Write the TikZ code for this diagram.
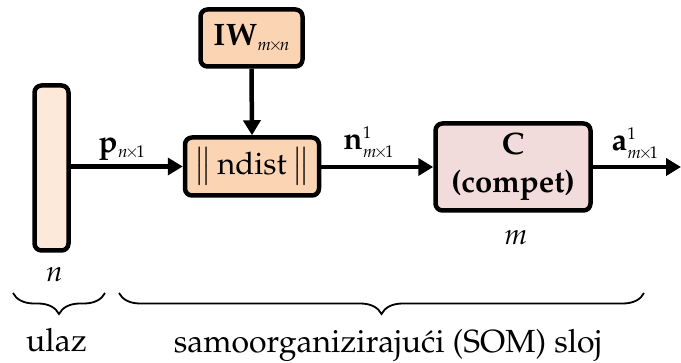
\documentclass[tikz,border=0pt]{standalone}
\usepackage[T1]{fontenc}
\usepackage{mathpazo}
\usetikzlibrary{arrows.meta,decorations.pathreplacing,positioning}
\definecolor{inbar}{HTML}{FDE9D9}
\definecolor{peach}{HTML}{FBD4B4}
\definecolor{pinkc}{HTML}{F2DCDB}
\newcommand{\sbx}[1]{\mbox{\fontsize{17}{17}\selectfont$#1$}}
\newcommand{\tms}{\mkern-3mu{\times}\mkern-3mu}
\tikzset{
  blk/.style={draw=black,line width=4.5pt,rounded corners=7pt,inner sep=0pt},
  conn/.style={line width=4.5pt,-{Triangle[length=15pt,width=17pt]}},
  bigtxt/.style={font=\fontsize{31}{38}\selectfont},
  lbl/.style={font=\fontsize{31}{36}\selectfont,inner sep=0pt},
  dimlbl/.style={font=\fontsize{29}{34}\selectfont,inner sep=0pt,anchor=base},
  btm/.style={font=\fontsize{32}{36}\selectfont,inner sep=0pt,anchor=base},
  brc/.style={decorate,decoration={brace,mirror,amplitude=21pt},line width=1.8pt},
}
\begin{document}
\begin{tikzpicture}[x=1pt,y=-1pt]
\useasboundingbox (0,0) rectangle (681,363);
% blocks
\node[blk,fill=inbar,minimum width=34pt,minimum height=165pt] (inp) at (51.5,168) {};
\node[blk,fill=peach,minimum width=102pt,minimum height=57pt,bigtxt] (iw) at (251.5,38) {$\mathbf{IW}_{\sbx{m\tms n}}$};
\node[blk,fill=peach,minimum width=134pt,minimum height=58pt,bigtxt] (nd) at (252,166.5) {$\big\|\,\mbox{ndist}\,\big\|$};
\node[blk,fill=pinkc,minimum width=155pt,minimum height=87pt,bigtxt,align=center] (cc) at (513,167) {\textbf{C}\\\textbf{(compet)}};
\coordinate (outend) at (681,167);
% connectors
\draw[conn] (inp.east |- nd.west) -- (nd.west);
\draw[conn] (iw.south) -- (nd.north);
\draw[conn] (nd.east |- cc.west) -- (cc.west);
\draw[conn] (cc.east) -- (outend);
% labels
\node[lbl,anchor=base west] (plbl) at (98,153) {$\mathbf{p}_{\sbx{n\tms 1}}$};
\node[lbl,anchor=base west] (nlbl) at (343,150) {$\mathbf{n}^{\sbx{1}}_{\sbx{m\tms 1}}$};
\node[lbl,anchor=base west] (albl) at (611,151) {$\mathbf{a}^{\sbx{1}}_{\sbx{m\tms 1}}$};
\node[dimlbl] (mlbl) at (516,245) {$m$};
\node[dimlbl] (nsz) at (54.5,282) {$n$};
% braces
\coordinate (b1a) at (13,293);
\coordinate (b1b) at (105,293);
\coordinate (b2a) at (119,293);
\coordinate (b2b) at (644,293);
\draw[brc] (b1a) -- (b1b);
\draw[brc] (b2a) -- (b2b);
\node[btm] (ulaz) at (56.5,352) {ulaz};
\node[btm] (som) at (388,353) {samoorganiziraju\'ci (SOM) sloj};
\end{tikzpicture}
\end{document}
